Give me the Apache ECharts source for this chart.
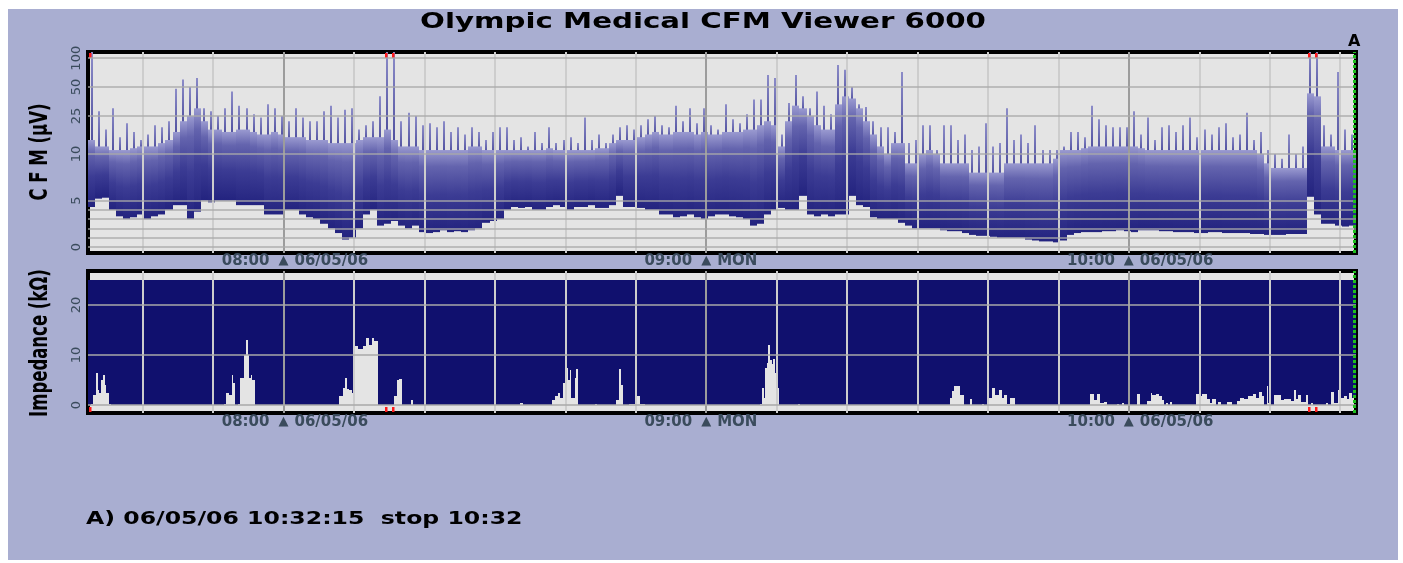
<!DOCTYPE html>
<html>
<head>
<meta charset="utf-8">
<title>Olympic Medical CFM Viewer 6000</title>
<script src="https://cdn.jsdelivr.net/npm/echarts@6/dist/echarts.min.js"></script>
<style>
  html, body { margin: 0; padding: 0; background: #fff; }
  #wrap { position: relative; width: 1403px; height: 563px; }
  #panel { position: absolute; left: 8px; top: 9px; width: 1390px; height: 551px; background: #a9aed1; }
  #chart { position: absolute; left: 0; top: 0; width: 1403px; height: 563px; }
</style>
</head>
<body>
<div id="wrap"><div id="panel"></div><div id="chart"></div></div>
<script>
// time axis is minutes after midnight, one CFM bin per minute from 07:32:15
const START = 452.25;
const END = 632.25;
const CURSOR = 632; // cursor A, 10:32

const tickMinutes = [480, 540, 600];
const tickTimes = ['08:00', '09:00', '10:00'];
const tickTags = ['06/05/06', 'MON', '06/05/06'];
const gridMinutes = [460, 470, 480, 490, 500, 510, 520, 530, 540, 550, 560, 570, 580, 590, 600, 610, 620, 630];

const cfmTicks = [0, 5, 10, 25, 50, 100];
const cfmGrid = [0, 1, 2, 3, 4, 5, 10, 25, 50, 100];
const impTicks = [0, 10, 20];

// CFM amplitude per minute (µV): bottom of band, top of band, highest spike
const cfmLow = [
  4.3, 5.2, 5.3, 4, 3.3, 3, 3.2, 3.5, 3, 3.3,
  3.5, 4, 4.5, 4.5, 3, 3.8, 5, 4.8, 5, 5,
  5, 4.5, 4.5, 4.5, 4.5, 3.5, 3.5, 3.5, 4, 4,
  3.5, 3.2, 3, 2.5, 2, 1.5, 0.8, 1, 2, 3.5,
  4, 2.3, 2.5, 2.8, 2.3, 2, 2.3, 1.6, 1.5, 1.6,
  1.8, 1.6, 1.7, 1.6, 1.8, 2, 2.6, 2.8, 3, 4,
  4.3, 4.2, 4.3, 4, 4, 4.3, 4.5, 4.3, 4, 4.3,
  4.3, 4.5, 4.2, 4.2, 4.5, 5.5, 4.3, 4.3, 4.2, 4,
  4, 3.5, 3.5, 3.2, 3.3, 3.5, 3.2, 3, 3.3, 3.5,
  3.5, 3.3, 3.2, 3, 2.3, 2.5, 3.5, 4, 4.2, 4,
  4, 5.5, 3.5, 3.3, 3.5, 3.3, 3.5, 3.5, 5.5, 4.5,
  4.3, 3.2, 3, 3, 3, 2.6, 2.3, 2, 2, 2,
  2, 1.8, 1.7, 1.7, 1.5, 1.3, 1.2, 1.2, 1.1, 1,
  1, 1, 1, 0.8, 0.7, 0.6, 0.6, 0.5, 0.7, 1.3,
  1.5, 1.6, 1.6, 1.6, 1.7, 1.7, 1.8, 1.7, 1.6, 1.8,
  1.8, 1.8, 1.7, 1.7, 1.6, 1.6, 1.6, 1.5, 1.5, 1.6,
  1.6, 1.5, 1.5, 1.5, 1.5, 1.4, 1.4, 1.3, 1.3, 1.3,
  1.4, 1.4, 1.4, 5.4, 3.5, 2.5, 2.5, 2.3, 2.2, 2.3
];
const cfmHigh = [
  14, 12, 12, 11, 11, 11, 11.5, 12, 12, 12,
  13, 14, 17, 22, 25, 30, 22, 18, 18, 17,
  17, 18, 18, 17, 16, 16, 17, 16, 15, 15,
  15, 14, 14, 14, 13, 13, 13, 13, 14, 15,
  15, 15, 18, 14, 12, 12, 12, 11, 11, 11,
  11, 11, 11, 11, 12, 12, 11, 11, 11, 11,
  11, 11, 11, 11, 11, 11.5, 11, 11, 11, 11,
  11, 11, 11.5, 11.5, 13, 14, 14, 14, 15, 16,
  17, 16, 16, 17, 17, 17, 16, 17, 16, 16,
  17, 17, 17, 18, 18, 20, 22, 20, 12, 22,
  32, 30, 25, 20, 18, 18, 33, 40, 38, 30,
  22, 16, 12, 10, 13, 13, 9, 9, 10, 11,
  10, 9, 9, 9, 9, 8, 8, 8, 8, 8,
  9, 9, 9, 9, 9, 9, 9, 9.5, 11, 11,
  11, 11.5, 12, 12, 12, 12, 12, 12, 12, 11.5,
  11, 11, 11, 11, 11, 11, 11, 11, 11, 11,
  11, 11, 11, 11, 11, 11, 10, 9, 8.5, 8.5,
  8.5, 8.5, 8.5, 43, 40, 12, 12, 11, 11, 11
];
const cfmPeak = [
  120, 28, 18, 30, 15, 21, 17, 14, 16, 20,
  19, 22, 48, 60, 50, 62, 30, 28, 25, 30,
  45, 32, 30, 26, 24, 33, 30, 25, 22, 30,
  24, 22, 22, 28, 32, 24, 29, 30, 18, 20,
  22, 40, 120, 120, 22, 27, 25, 20, 21, 19,
  22, 17, 19, 16, 19, 17, 14, 17, 19, 19,
  14, 15, 12, 17, 13, 19, 13, 14, 15, 13,
  24, 14, 16, 13, 16, 19, 20, 18, 20, 23,
  25, 20, 19, 32, 22, 30, 21, 30, 20, 18,
  33, 23, 21, 26, 37, 37, 67, 62, 16, 34,
  67, 40, 30, 45, 32, 26, 85, 76, 50, 33,
  31, 22, 19, 19, 17, 72, 13, 14, 20, 20,
  11, 20, 20, 14, 16, 11, 12, 21, 12, 13,
  30, 14, 16, 13, 20, 11, 11, 11, 12, 17,
  17, 15, 32, 23, 20, 19, 19, 19, 28, 16,
  24, 14, 19, 20, 17, 20, 24, 15, 18, 16,
  19, 21, 15, 16, 27, 14, 17, 11, 10, 9.5,
  16, 10, 12, 120, 120, 20, 16, 72, 18, 16
];

// impedance (kΩ): minutes after 07:32:15 where the value changes, and the new value
const impTime = [
  0, 0.4, 0.75, 1.1, 1.35, 1.55, 1.8, 2.1, 2.4, 2.6, 3.0, 3.2,
  19.3, 19.6, 19.95, 20.4, 20.6, 20.9, 21.35, 21.55, 22.2, 22.4, 22.65, 22.9, 23.1, 23.35, 23.75,
  35.7, 36.15, 36.5, 36.8, 37.1, 37.5, 37.7, 38.3, 39.0, 39.5, 39.95, 40.35, 40.65, 41.15,
  43.5, 43.85, 44.15, 44.6, 45.9, 46.1,
  61.3, 61.75,
  65.8, 66.25, 66.75, 67.0, 67.45, 67.8, 68.15, 68.4, 68.6, 69.1, 69.3, 69.5,
  72.0, 72.2,
  75.0, 75.4, 75.65, 76.0, 76.8, 77.8, 78.35, 79.05,
  95.4, 95.65, 95.9, 96.1, 96.35, 96.6, 96.75, 97.05, 97.3, 97.55, 97.8, 98.15,
  100.85, 101.1,
  122.4, 122.65, 122.9, 123.85, 124.3, 125.2, 125.5, 126.9, 127.15,
  127.9, 128.35, 128.8, 129.3, 129.75, 130.0, 130.4, 130.85, 131.65,
  142.3, 142.8, 143.3, 143.65, 144.2, 144.6, 146.1, 146.4, 146.8, 147.1, 148.95, 149.35,
  150.4, 150.85, 151.1, 151.6, 152.1, 152.5, 152.75, 153.0, 153.3, 153.6, 153.95,
  157.25, 157.7, 158.2, 158.9, 159.3, 159.6, 160.1, 160.35, 160.8, 161.75, 162.45, 163.15,
  163.6, 164.1, 164.6, 165.4, 165.8, 166.25, 166.6, 167.0, 167.3, 167.45, 167.9, 168.4,
  169.3, 169.8, 170.75, 171.2, 171.5, 171.7, 172.2, 172.9, 173.2, 173.6, 173.9, 175.7,
  176.0, 176.45, 176.9, 177.4, 177.85, 178.35, 178.7, 179.05, 179.5
];
const impValue = [
  0, 0.3, 2, 6.5, 3, 2.5, 5, 6, 4, 2.5, 0.3, 0,
  0.3, 2.5, 2, 6, 4.5, 0, 0.3, 5.5, 10, 13, 10, 5.5, 6, 5, 0,
  1.8, 3.5, 5.5, 3.2, 3, 2.5, 11.8, 11.3, 11.8, 13.5, 12, 13.5, 12.8, 0,
  1.8, 5, 5.3, 0, 1, 0,
  0.5, 0,
  1, 1.8, 2.5, 1.5, 4.5, 7.5, 5, 7, 1.5, 5.5, 7.3, 0,
  0.3, 0,
  1, 7.3, 4, 0, 0.3, 1.8, 0.3, 0,
  0.3, 3.5, 1.5, 7.5, 8.5, 12, 9, 8.3, 9.3, 6.5, 3.5, 0,
  0.3, 0,
  1.5, 2.8, 3.8, 2, 0, 1.3, 0, 0.3, 0,
  1.5, 3.5, 2, 3, 1.5, 2, 0.3, 1.5, 0,
  2.2, 1, 2.2, 0.5, 0.7, 0, 0.3, 0, 0.5, 0, 2.2, 0,
  0.8, 2.4, 2, 2.2, 1.8, 1, 0, 0.5, 0, 0.6, 0,
  2.2, 1.8, 2.2, 1.3, 0.5, 1.2, 0, 0.6, 0, 0.6, 0, 0.8,
  1.5, 1.2, 1.8, 2.3, 1.5, 2.7, 1.8, 0, 3.8, 0.4, 0, 2,
  1, 1.3, 0.8, 3, 1.2, 2, 0.6, 2, 0, 0.4, 0, 0.5,
  0, 2.7, 0.5, 3, 1.5, 1.8, 1.2, 2.5, 1.5
];

// semi-log CFM scale: linear 0-10, log 10-100
const DECADE = 10.3;
function toAxis(v) { return v <= 10 ? v : 10 + DECADE * Math.log10(v / 10); }
function fromAxis(d) { return d <= 10 ? d : 10 * Math.pow(10, (d - 10) / DECADE); }

const TOP_MIN = -0.645, TOP_MAX = 20.97;
const IMP_MIN = -1.6, IMP_MAX = 26.8, IMP_FULL = 25;
const CFM_CLIP = fromAxis(TOP_MAX);

const NAVY = '#10106e';
const LABEL = '#3a4b5c';
const FONT = 'DejaVu Sans';

const cfmData = cfmLow.map((lo, i) => [START + i, toAxis(lo), toAxis(cfmHigh[i]), toAxis(cfmPeak[i]), cfmPeak[i] > CFM_CLIP ? 1 : 0]);
const impData = impTime.map((t, i) => [START + t, impValue[i], i + 1 < impTime.length ? START + impTime[i + 1] : END]);

function renderCfm(params, api) {
  const t = api.value(0);
  const a = api.coord([t, api.value(1)]);
  const b = api.coord([t + 1, api.value(2)]);
  const c = api.coord([t + 0.5, Math.min(api.value(3), TOP_MAX)]);
  const x0 = Math.round(a[0]), x1 = Math.round(b[0]);
  const children = [
    {
      type: 'rect',
      shape: { x: Math.round(c[0]) - 1, y: c[1], width: 2, height: b[1] - c[1] + 2 },
      style: {
        fill: new echarts.graphic.LinearGradient(0, 0, 0, 1, [
          { offset: 0, color: '#8c8cc8' },
          { offset: 1, color: '#50509f' }
        ])
      }
    },
    {
      type: 'rect',
      shape: { x: x0, y: b[1], width: x1 - x0, height: a[1] - b[1] },
      style: {
        fill: new echarts.graphic.LinearGradient(0, 0, 0, 1, [
          { offset: 0, color: '#9a9ad0' },
          { offset: 0.2, color: '#6464ae' },
          { offset: 0.55, color: '#3c3c94' },
          { offset: 1, color: '#23237f' }
        ])
      }
    }
  ];
  if (api.value(4)) {
    const top = api.coord([t, TOP_MAX]);
    children.push({ type: 'rect', shape: { x: x0 + 1, y: top[1] + 1, width: 2.5, height: 5 }, style: { fill: '#ff1a1a' } });
  }
  return { type: 'group', children };
}

// navy fill from the impedance value up to the top of the scale, pixel-snapped so segments abut
function renderImp(params, api) {
  const a = api.coord([api.value(0), IMP_FULL]);
  const b = api.coord([api.value(2), api.value(1)]);
  const x0 = Math.round(a[0]), x1 = Math.round(b[0]);
  const y0 = Math.round(a[1]), y1 = Math.round(b[1]);
  if (x1 <= x0) return null;
  return {
    type: 'rect',
    shape: { x: x0, y: y0, width: x1 - x0, height: y1 - y0 },
    style: { fill: NAVY }
  };
}

function renderClipBottom(params, api) {
  if (!api.value(4)) return null;
  const a = api.coord([api.value(0), IMP_MIN]);
  return { type: 'rect', shape: { x: Math.round(a[0]) + 1, y: a[1] - 6, width: 2.5, height: 5 }, style: { fill: '#ff1a1a' } };
}

// three label layers per plot: time left of the tick, marker on it, tag right of it
function labelAxis(gridIndex, margin, formatter, extra) {
  return {
    type: 'value', gridIndex, position: 'bottom', offset: 0, min: START, max: END,
    axisLine: { show: false }, axisTick: { show: false }, splitLine: { show: false },
    axisLabel: Object.assign({
      customValues: tickMinutes, formatter, margin,
      color: LABEL, fontFamily: FONT, fontWeight: 'bold', fontSize: 15
    }, extra)
  };
}
function axesFor(gridIndex, margin) {
  return [
    labelAxis(gridIndex, margin, v => tickTimes[tickMinutes.indexOf(v)] || '', { align: 'right', padding: [0, 14, 0, 0] }),
    labelAxis(gridIndex, margin, () => '▲', { align: 'center', fontSize: 13 }),
    labelAxis(gridIndex, margin, v => tickTags[tickMinutes.indexOf(v)] || '', { align: 'left', padding: [0, 0, 0, 11] })
  ];
}

const vLines = gridMinutes.map(m => ({
  xAxis: m,
  lineStyle: { color: tickMinutes.indexOf(m) >= 0 ? '#9c9c9c' : '#cdcdcd', width: 2, type: 'solid' }
}));

function rotatedName(text, y) {
  return {
    type: 'text', x: 40, y, rotation: Math.PI / 2, scaleX: 0.66, silent: true,
    style: { text, font: 'bold 25px "DejaVu Sans"', fill: '#000', align: 'center', verticalAlign: 'middle' }
  };
}

const chart = echarts.init(document.getElementById('chart'));
chart.setOption({
  animation: false,
  backgroundColor: 'transparent',
  textStyle: { fontFamily: FONT },
  graphic: [
    {
      type: 'text', x: 703, y: 22, scaleX: 1.33, silent: true,
      style: { text: 'Olympic Medical CFM Viewer 6000', font: 'bold 22px "DejaVu Sans"', fill: '#000', align: 'center', verticalAlign: 'middle' }
    },
    {
      type: 'text', x: 86, y: 519, scaleX: 1.31, silent: true,
      style: { text: 'A) 06/05/06 10:32:15  stop 10:32', font: 'bold 18px "DejaVu Sans"', fill: '#000', align: 'left', verticalAlign: 'middle' }
    },
    rotatedName('C F M (µV)', 152),
    rotatedName('Impedance (kΩ)', 343)
  ],
  grid: [
    { left: 88, right: 47, top: 52, height: 201, show: true, backgroundColor: '#e4e4e4', borderColor: '#000', borderWidth: 4 },
    { left: 88, right: 47, top: 271, height: 142, show: true, backgroundColor: '#e4e4e4', borderColor: '#000', borderWidth: 4 }
  ],
  xAxis: axesFor(0, 1).concat(axesFor(1, 2)),
  yAxis: [
    {
      type: 'value', gridIndex: 0, min: TOP_MIN, max: TOP_MAX,
      axisLine: { show: false }, axisTick: { show: false }, splitLine: { show: false },
      axisLabel: {
        customValues: cfmTicks.map(toAxis), rotate: 90, margin: 5,
        formatter: v => String(Math.round(fromAxis(v))),
        color: LABEL, fontFamily: FONT, fontSize: 13
      }
    },
    {
      type: 'value', gridIndex: 1, min: IMP_MIN, max: IMP_MAX,
      axisLine: { show: false }, axisTick: { show: false }, splitLine: { show: false },
      axisLabel: { customValues: impTicks, rotate: 90, margin: 5, color: LABEL, fontFamily: FONT, fontSize: 13 }
    }
  ],
  series: [
    {
      type: 'line', name: 'grid-top', xAxisIndex: 0, yAxisIndex: 0, data: [], z: 1,
      markLine: { silent: true, symbol: ['none', 'none'], label: { show: false }, data: vLines }
    },
    {
      type: 'custom', name: 'CFM', xAxisIndex: 0, yAxisIndex: 0, z: 2,
      renderItem: renderCfm, data: cfmData
    },
    {
      type: 'line', name: 'levels-top', xAxisIndex: 0, yAxisIndex: 0, data: [], z: 3,
      markLine: {
        silent: true, symbol: ['none', 'none'], label: { show: false },
        lineStyle: { color: '#aaaaaa', width: 1.5, type: 'solid', opacity: 0.9 },
        data: cfmGrid.map(v => ({ yAxis: toAxis(v) }))
      }
    },
    {
      type: 'line', name: 'cursor-top', xAxisIndex: 0, yAxisIndex: 0, data: [], z: 4,
      markLine: {
        silent: true, symbol: ['none', 'none'],
        lineStyle: { color: '#1fbf1f', width: 3, type: [3, 2] },
        label: { show: true, position: 'end', formatter: 'A', color: '#000', fontFamily: FONT, fontWeight: 'bold', fontSize: 16, distance: 2 },
        data: [{ xAxis: CURSOR }]
      }
    },
    {
      type: 'line', name: 'grid-bottom', xAxisIndex: 3, yAxisIndex: 1, data: [], z: 1,
      markLine: {
        silent: true, symbol: ['none', 'none'], label: { show: false },
        data: vLines.concat(impTicks.map(v => ({ yAxis: v, lineStyle: { color: '#a8a8a8', width: 1.5, type: 'solid' } })))
      }
    },
    {
      type: 'custom', name: 'Impedance', xAxisIndex: 3, yAxisIndex: 1, z: 2,
      renderItem: renderImp, data: impData
    },
    {
      type: 'custom', name: 'clip-bottom', xAxisIndex: 3, yAxisIndex: 1, z: 3,
      renderItem: renderClipBottom, data: cfmData
    },
    {
      type: 'line', name: 'cursor-bottom', xAxisIndex: 3, yAxisIndex: 1, data: [], z: 4,
      markLine: {
        silent: true, symbol: ['none', 'none'], label: { show: false },
        lineStyle: { color: '#1fbf1f', width: 3, type: [3, 2] },
        data: [{ xAxis: CURSOR }]
      }
    }
  ]
});
</script>
</body>
</html>
